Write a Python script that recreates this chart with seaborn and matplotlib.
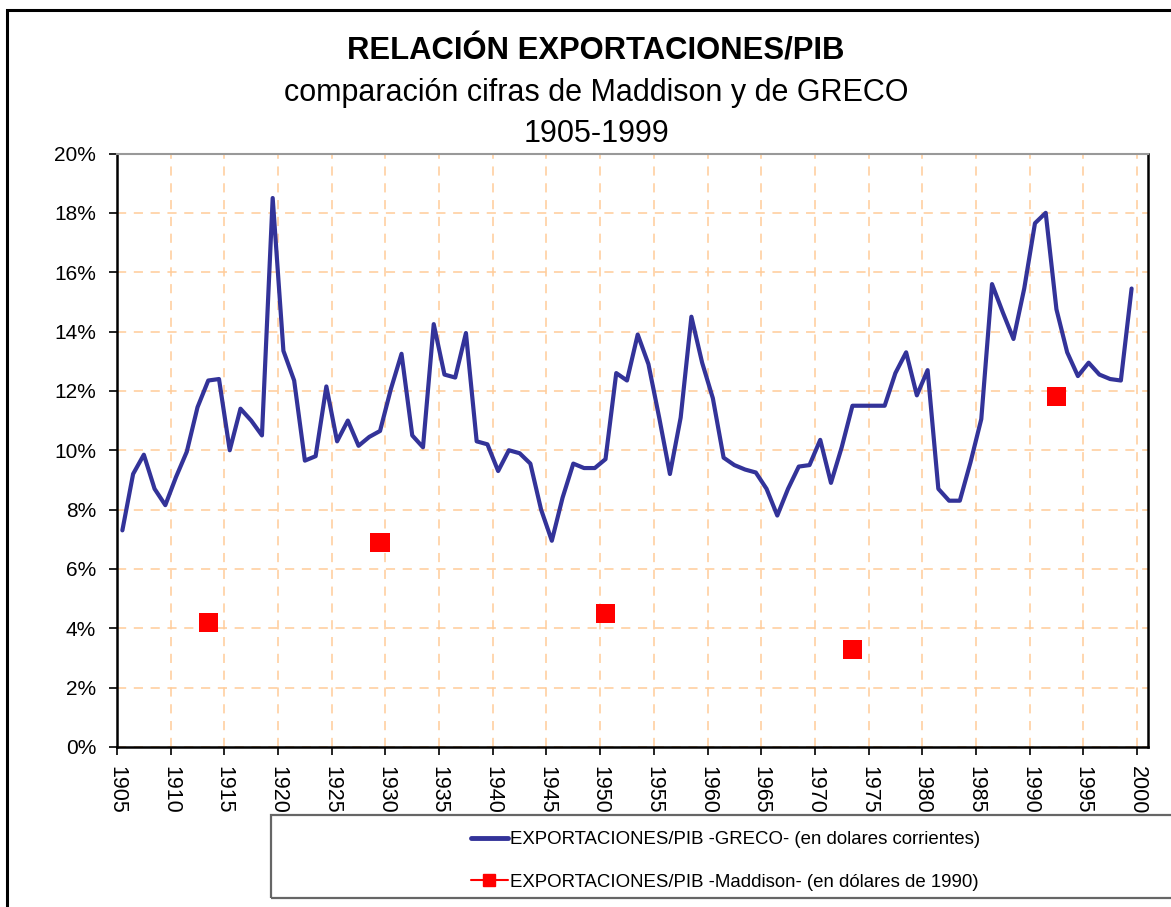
import matplotlib
matplotlib.use("Agg")
import matplotlib.pyplot as plt
from matplotlib.patches import Rectangle
from matplotlib.lines import Line2D
from matplotlib.ticker import FuncFormatter
import seaborn as sns
import pandas as pd
import numpy as np

# Data (percent of GDP)
years = list(range(1905, 2000))
greco = [7.3, 9.2, 9.85, 8.7, 8.15, 9.1, 9.95, 11.45, 12.35, 12.4,
         10.0, 11.4, 11.0, 10.5, 18.5, 13.35, 12.35, 9.65, 9.8, 12.15,
         10.3, 11.0, 10.15, 10.45, 10.65, 12.05, 13.25, 10.5, 10.1, 14.25,
         12.55, 12.45, 13.95, 10.3, 10.2, 9.3, 10.0, 9.9, 9.55, 8.0,
         6.95, 8.4, 9.55, 9.4, 9.4, 9.7, 12.6, 12.35, 13.9, 12.9,
         11.1, 9.2, 11.1, 14.5, 12.95, 11.75, 9.75, 9.5, 9.35, 9.25,
         8.7, 7.8, 8.7, 9.45, 9.5, 10.35, 8.9, 10.1, 11.5, 11.5,
         11.5, 11.5, 12.6, 13.3, 11.85, 12.7, 8.7, 8.3, 8.3, 9.6,
         11.05, 15.6, 14.65, 13.75, 15.45, 17.65, 18.0, 14.75, 13.3, 12.5,
         12.95, 12.55, 12.4, 12.35, 15.45]
maddison_years = [1913, 1929, 1950, 1973, 1992]
maddison = [4.2, 6.9, 4.5, 3.3, 11.8]
tick_labels = [str(y) for y in range(1905, 2001, 5)]

label_greco = "EXPORTACIONES/PIB -GRECO- (en dolares corrientes)"
label_madd = "EXPORTACIONES/PIB -Maddison- (en dólares de 1990)"

df_g = pd.DataFrame({"year": years, "value": greco})
df_m = pd.DataFrame({"year": maddison_years, "value": maddison})

sns.set_style("white")
plt.rcParams["font.family"] = ["Liberation Sans", "DejaVu Sans"]
plt.rcParams["text.color"] = "black"
plt.rcParams["xtick.color"] = "black"
plt.rcParams["ytick.color"] = "black"

fig = plt.figure(figsize=(11.71, 9.07), dpi=100)
ax = fig.add_axes([117 / 1171, 1 - 747 / 907, (1147.7 - 117) / 1171, (747 - 153.5) / 907])

sns.lineplot(data=df_g, x="year", y="value", color="#333399", linewidth=3, ax=ax)
sns.scatterplot(data=df_m, x="year", y="value", color="#FF0000", marker="s",
                s=190, edgecolor="none", ax=ax, zorder=5)

ax.set_xlim(1904.5, 2000.5)
ax.set_ylim(0, 20)
ax.set_xticks(np.arange(1904.5, 2000, 5))
ax.set_xticklabels(tick_labels, rotation=-90, fontsize=15.5)
ax.set_yticks(range(0, 21, 2))
ax.yaxis.set_major_formatter(FuncFormatter(lambda v, p: f"{int(v)}%"))
ax.tick_params(axis="y", labelsize=15, length=6, width=1.2, direction="out", left=True, pad=9)
ax.tick_params(axis="x", length=6, width=1.2, direction="out", bottom=True, pad=8)
ax.set_xlabel("")
ax.set_ylabel("")

ax.grid(True, color="#FFCC99", linestyle=(0, (6, 5)), linewidth=1.1)
ax.set_axisbelow(True)

for side in ["left", "bottom", "right"]:
    ax.spines[side].set_color("black")
    ax.spines[side].set_linewidth(1.8)
ax.spines["top"].set_color("#999999")
ax.spines["top"].set_linewidth(1.5)

# titles
fig.text(0.509, 1 - 51 / 907, "RELACIÓN EXPORTACIONES/PIB", ha="center", va="center",
         fontsize=22.3, fontweight="bold")
fig.text(0.509, 1 - 93 / 907, "comparación cifras de Maddison y de GRECO", ha="center",
         va="center", fontsize=22)
fig.text(0.509, 1 - 134 / 907, "1905-1999", ha="center", va="center", fontsize=22)

# outer frame
fig.patches.append(Rectangle((7 / 1171, -0.05), 1.1, 1 - 10 / 907 + 0.05,
                             transform=fig.transFigure, fill=False,
                             edgecolor="black", linewidth=2.2))
# legend box
fig.patches.append(Rectangle((271 / 1171, 1 - 898 / 907), 1.0, (898 - 815) / 907,
                             transform=fig.transFigure, fill=False,
                             edgecolor="#666666", linewidth=1.6))

handles = [Line2D([], [], color="#333399", linewidth=3.5),
           Line2D([], [], color="#FF0000", linewidth=1.5, marker="s", markersize=9)]
fig.legend(handles, [label_greco, label_madd], loc="center left",
           bbox_to_anchor=(454 / 1171, 1 - 861 / 907), frameon=False,
           fontsize=13.4, handlelength=2.0, handletextpad=0.1, labelspacing=1.35)

plt.savefig("out.png", dpi=100)
